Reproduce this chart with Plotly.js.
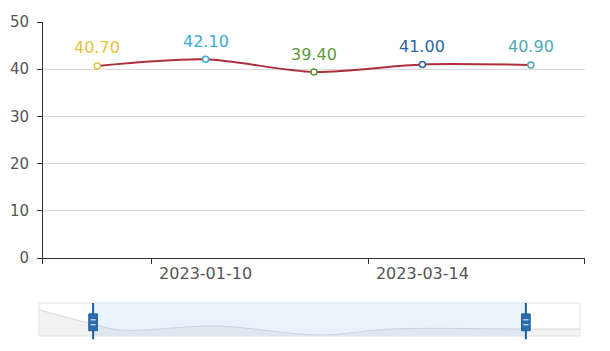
<!DOCTYPE html>
<html>
<head>
<meta charset="utf-8">
<script src="https://cdn.plot.ly/plotly-3.0.1.min.js"></script>
<style>html,body{margin:0;padding:0;background:#fff;}#chart{width:610px;height:351px;}</style>
</head>
<body>
<div id="chart"></div>
<script>
// Data
var categories = ["2022-11-08", "2023-01-10", "2023-02-14", "2023-03-14", "2023-04-11"];
var values = [40.70, 42.10, 39.40, 41.00, 40.90];
var pointColors = ["#e6c33c", "#38abd9", "#5c9a3c", "#2b66a2", "#4ea7b3"];
var shownLabels = ["2023-01-10", "2023-03-14"];
// Data-zoom slider (percent of the full range) and its shadow outline
var zoomStart = 10, zoomEnd = 90;
var shadowX = [0, 10, 15, 33, 52, 65, 90, 100];
var shadowY = [0.79, 0.36, 0.18, 0.30, 0.03, 0.21, 0.21, 0.21];

var idx = categories.map(function (_, i) { return i; });
var tickIdx = shownLabels.map(function (l) { return categories.indexOf(l); });
var FONT = 'DejaVu Sans, sans-serif';

var traces = [
  {
    x: idx, y: values, type: 'scatter', mode: 'lines+markers',
    line: {color: '#ac2f3a', width: 2, shape: 'spline', smoothing: 0.8},
    marker: {size: 6, color: '#ffffff', line: {color: pointColors, width: 1.5}},
    hoverinfo: 'skip', xaxis: 'x', yaxis: 'y'
  },
  {
    x: shadowX, y: shadowY, type: 'scatter', mode: 'lines',
    line: {color: '#d3d9e0', width: 1, shape: 'spline'},
    fill: 'tozeroy', fillcolor: 'rgba(0,0,0,0.05)',
    hoverinfo: 'skip', xaxis: 'x2', yaxis: 'y2'
  }
];

var annotations = values.map(function (v, i) {
  return {
    x: i, y: v, xref: 'x', yref: 'y', text: v.toFixed(2), showarrow: false,
    yshift: 18, font: {family: FONT, size: 16, color: pointColors[i]}
  };
});

var handleColor = '#215f9c';
var halfW = 0.8;
var shapes = [
  {type: 'rect', xref: 'x2', yref: 'y2 domain', x0: zoomStart, x1: zoomEnd, y0: 0, y1: 1,
   fillcolor: 'rgba(150,195,235,0.2)', line: {width: 0}, layer: 'above'},
  {type: 'rect', xref: 'x2 domain', yref: 'y2 domain', x0: 0, x1: 1, y0: 0, y1: 1,
   fillcolor: 'rgba(0,0,0,0)', line: {color: '#dfe4ea', width: 1}, layer: 'above'}
];
[zoomStart, zoomEnd].forEach(function (p) {
  shapes.push({type: 'line', xref: 'x2', yref: 'y2 domain', x0: p, x1: p, y0: -0.1, y1: 1,
    line: {color: handleColor, width: 2}, layer: 'above'});
  shapes.push({type: 'rect', xref: 'x2', yref: 'y2 domain', x0: p - halfW, x1: p + halfW, y0: 0.16, y1: 0.67,
    fillcolor: '#2a6cae', line: {color: handleColor, width: 1}, layer: 'above'});
  shapes.push({type: 'line', xref: 'x2', yref: 'y2 domain', x0: p - halfW * 0.6, x1: p + halfW * 0.6, y0: 0.34, y1: 0.34,
    line: {color: '#ffffff', width: 1}, layer: 'above'});
  shapes.push({type: 'line', xref: 'x2', yref: 'y2 domain', x0: p - halfW * 0.6, x1: p + halfW * 0.6, y0: 0.49, y1: 0.49,
    line: {color: '#ffffff', width: 1}, layer: 'above'});
});

var layout = {
  width: 610, height: 351,
  margin: {l: 39, r: 25, t: 22, b: 15},
  paper_bgcolor: '#ffffff', plot_bgcolor: '#ffffff',
  showlegend: false,
  font: {family: FONT, size: 15, color: '#555'},
  xaxis: {
    domain: [0.0073, 1], range: [-0.5, 4.5], showgrid: false, zeroline: false,
    showline: true, linecolor: '#333', linewidth: 1,
    tickmode: 'array', tickvals: tickIdx, ticktext: shownLabels, ticks: '',
    tickfont: {family: FONT, size: 16, color: '#555'}, ticklabelstandoff: 1,
    minor: {tickmode: 'array', tickvals: [-0.5, 0.5, 2.5, 4.5], ticks: 'outside', ticklen: 5, tickcolor: '#333', tickwidth: 1, showgrid: false},
    fixedrange: true
  },
  yaxis: {
    domain: [0.2484, 1], range: [0, 50], dtick: 10, tick0: 0,
    showgrid: true, gridcolor: '#d9d9d9', gridwidth: 1, zeroline: false,
    showline: true, linecolor: '#333', linewidth: 1,
    ticks: 'outside', ticklen: 5, tickcolor: '#333', ticklabelstandoff: 5,
    tickfont: {family: FONT, size: 15, color: '#555'}, fixedrange: true
  },
  xaxis2: {
    domain: [0, 0.9908], range: [0, 100], anchor: 'y2', showgrid: false, zeroline: false,
    showline: false, showticklabels: false, ticks: '', fixedrange: true
  },
  yaxis2: {
    domain: [0, 0.1051], range: [0, 1], anchor: 'x2', showgrid: false, zeroline: false,
    showline: false, showticklabels: false, ticks: '', fixedrange: true
  },
  annotations: annotations,
  shapes: shapes
};

Plotly.newPlot('chart', traces, layout, {displayModeBar: false, staticPlot: true});
</script>
</body>
</html>
